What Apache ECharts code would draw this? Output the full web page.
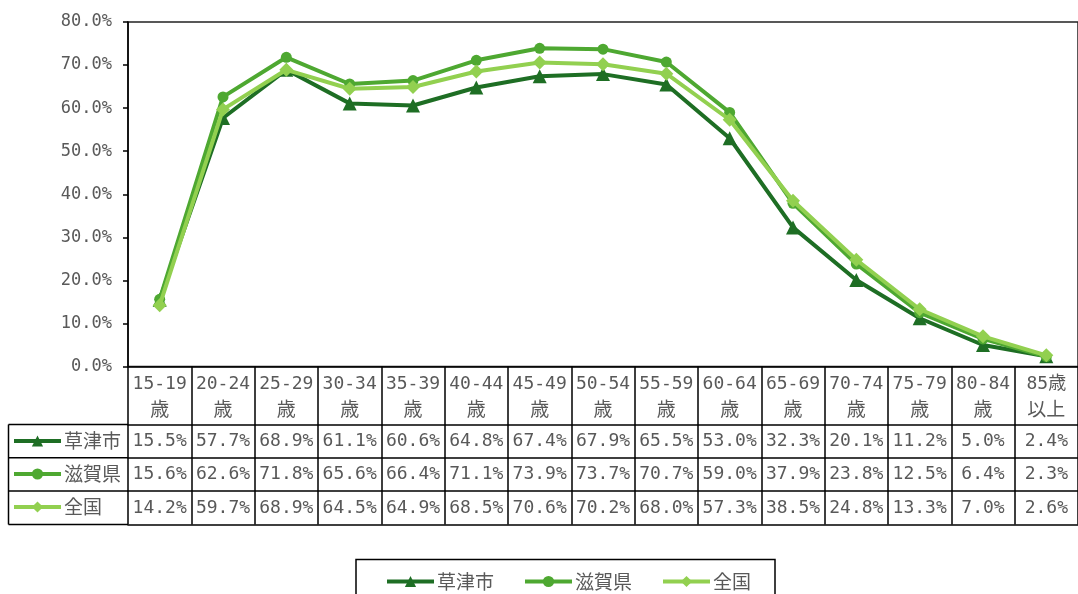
<!DOCTYPE html>
<html>
<head>
<meta charset="utf-8">
<script src="https://cdn.jsdelivr.net/npm/echarts@6/dist/echarts.min.js"></script>
<style>
html,body{margin:0;padding:0;background:#fff;}
#chart{width:1078px;height:594px;}
</style>
</head>
<body>
<div id="chart"></div>
<script>
// ---- data ----
const categories = ['15-19\n歳','20-24\n歳','25-29\n歳','30-34\n歳','35-39\n歳','40-44\n歳','45-49\n歳','50-54\n歳','55-59\n歳','60-64\n歳','65-69\n歳','70-74\n歳','75-79\n歳','80-84\n歳','85歳\n以上'];
const seriesNames = ['草津市','滋賀県','全国'];
const kusatsu = [15.5,57.7,68.9,61.1,60.6,64.8,67.4,67.9,65.5,53.0,32.3,20.1,11.2,5.0,2.4];
const shiga   = [15.6,62.6,71.8,65.6,66.4,71.1,73.9,73.7,70.7,59.0,37.9,23.8,12.5,6.4,2.3];
const zenkoku = [14.2,59.7,68.9,64.5,64.9,68.5,70.6,70.2,68.0,57.3,38.5,24.8,13.3,7.0,2.6];
const yMin = 0, yMax = 80, yInterval = 10;

// ---- style ----
const MONO = '"DejaVu Sans Mono", "Noto Sans CJK JP", monospace';
const CJK = '"Noto Sans CJK JP", sans-serif';
const TXT = '#595959';
const colors = ['#1e6e24','#4ea831','#92d050'];
const symbols = ['triangle','circle','diamond'];
const symbolSizes = [14,11,14];
const GRID_LEFT = 128, GRID_TOP = 22, GRID_BOTTOM_Y = 366.5, CHART_H = 594;
const rowOffsets = [58, 91.3, 124.6, 158];   // table horizontal lines below axis
const TABLE_LEFT = 8.5;

const valueRows = [kusatsu, shiga, zenkoku];

const chart = echarts.init(document.getElementById('chart'), null, {renderer:'canvas'});

const xAxes = [{
  type:'category', data:categories, gridIndex:0, position:'bottom', boundaryGap:true,
  axisLine:{show:true, lineStyle:{color:'#000', width:1.5}},
  axisTick:{show:true, interval:0, length:rowOffsets[3], lineStyle:{color:'#000', width:1.5}},
  axisLabel:{interval:0, color:TXT, margin:5,
    formatter:v => { const p = v.split('\n'); return '{n|' + p[0] + '}\n{k|' + p[1] + '}'; },
    rich:{
      n:{fontFamily:MONO, fontSize:18, lineHeight:25, color:TXT},
      k:{fontFamily:CJK, fontSize:19, lineHeight:25, color:TXT}
    }}
}];
valueRows.forEach((arr, r) => {
  xAxes.push({
    type:'category', data:categories, gridIndex:0, position:'bottom', offset:rowOffsets[r], boundaryGap:true,
    axisLine:{show:true, lineStyle:{color:'#000', width:1.5}},
    axisTick:{show:false},
    axisLabel:{interval:0, color:TXT, fontFamily:MONO, fontSize:18, lineHeight:20, margin:7,
      formatter:(v, i) => arr[i].toFixed(1) + '%'}
  });
});
xAxes.push({
  type:'category', data:categories, gridIndex:0, position:'bottom', offset:rowOffsets[3], boundaryGap:true,
  axisLine:{show:true, lineStyle:{color:'#000', width:1.5}},
  axisTick:{show:false}, axisLabel:{show:false}
});

// left column frame of the data table
const frame = [];
const rowYs = rowOffsets.map(o => GRID_BOTTOM_Y + o);
rowYs.forEach(y => frame.push({type:'line', shape:{x1:TABLE_LEFT, y1:y, x2:GRID_LEFT, y2:y}, style:{stroke:'#000', lineWidth:1.5}}));
frame.push({type:'line', shape:{x1:TABLE_LEFT, y1:rowYs[0], x2:TABLE_LEFT, y2:rowYs[3]}, style:{stroke:'#000', lineWidth:1.5}});

const legendCommon = {
  data:seriesNames, itemWidth:47, itemHeight:14, selectedMode:false,
  lineStyle:{width:4},
  textStyle:{color:TXT, fontFamily:CJK, fontSize:19, lineHeight:20, padding:[0,0,0,-2]}
};

const option = {
  animation:false,
  backgroundColor:'#fff',
  grid:{left:GRID_LEFT, right:-10, top:GRID_TOP, bottom:CHART_H - GRID_BOTTOM_Y, show:true, borderColor:'#222', borderWidth:1.5, backgroundColor:'transparent'},
  xAxis:xAxes,
  yAxis:{type:'value', min:yMin, max:yMax, interval:yInterval,
    axisLine:{show:true, lineStyle:{color:'#000', width:1.5}},
    axisTick:{show:true, length:5, lineStyle:{color:'#000', width:1.5}},
    splitLine:{show:false},
    axisLabel:{color:TXT, fontFamily:MONO, fontSize:17, margin:16, formatter:v => v.toFixed(1) + '%'}
  },
  legend:[Object.assign({}, legendCommon, {
    orient:'vertical', left:12, top:rowYs[0] + 6.5, padding:0, itemGap:13
  }), Object.assign({}, legendCommon, {
    orient:'horizontal', left:356, top:559.5, padding:[12,24,20,29], itemGap:29,
    borderColor:'#000', borderWidth:1.5
  })],
  graphic:frame,
  series:[kusatsu, shiga, zenkoku].map((arr, i) => ({
    name:seriesNames[i], type:'line', data:arr, xAxisIndex:0, yAxisIndex:0,
    symbol:symbols[i], symbolSize:symbolSizes[i],
    lineStyle:{color:colors[i], width:4},
    itemStyle:{color:colors[i]},
    z:2+i
  }))
};
chart.setOption(option);
</script>
</body>
</html>
